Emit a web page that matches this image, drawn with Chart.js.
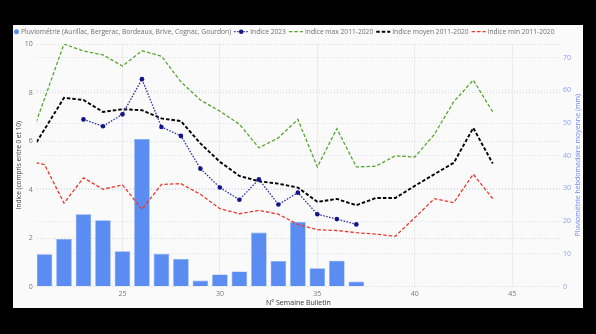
<!DOCTYPE html>
<html>
<head>
<meta charset="utf-8">
<script src="https://cdn.jsdelivr.net/npm/chart.js@4"></script>
<style>
  html, body { margin: 0; padding: 0; background: #000; }
  #wrap { position: absolute; left: 13px; top: 25px; width: 570px; height: 283px; background: #fafafa; }
</style>
</head>
<body>
<div id="wrap"><canvas id="chart"></canvas></div>
<script>
// weeks (N° Semaine Bulletin)
const barWeeks = [21, 22, 23, 24, 25, 26, 27, 28, 29, 30, 31, 32, 33, 34, 35, 36, 37];
const pluvio = [9.9, 14.5, 22.1, 20.3, 10.8, 45.1, 10.0, 8.4, 1.8, 3.7, 4.6, 16.5, 7.8, 19.7, 5.6, 7.9, 1.5];

const weeks2023 = [23, 24, 25, 26, 27, 28, 29, 30, 31, 32, 33, 34, 35, 36, 37];
const indice2023 = [6.89, 6.61, 7.10, 8.55, 6.58, 6.21, 4.86, 4.08, 3.58, 4.42, 3.38, 3.87, 2.98, 2.78, 2.56];

const refWeeks = [20, 21, 22, 23, 24, 25, 26, 27, 28, 29, 30, 31, 32, 33, 34, 35, 36, 37, 38, 39, 40, 41, 42, 43, 44];
const indiceMax = [5.5, 7.74, 10.0, 9.71, 9.55, 9.09, 9.72, 9.50, 8.44, 7.69, 7.23, 6.69, 5.72, 6.13, 6.89, 4.93, 6.51, 4.93, 4.96, 5.39, 5.34, 6.27, 7.62, 8.51, 7.20];
const indiceMoyen = [5.18, 6.48, 7.78, 7.69, 7.20, 7.31, 7.27, 6.93, 6.82, 5.90, 5.14, 4.56, 4.34, 4.24, 4.08, 3.49, 3.61, 3.35, 3.65, 3.65, 4.15, 4.63, 5.10, 6.54, 5.07];
const indiceMin = [5.2, 5.03, 3.44, 4.48, 4.01, 4.19, 3.18, 4.21, 4.24, 3.80, 3.21, 3.00, 3.14, 2.98, 2.56, 2.34, 2.31, 2.22, 2.16, 2.07, 2.84, 3.62, 3.46, 4.63, 3.62];

const leftTicks = [0, 2, 4, 6, 8, 10];
const rightTicks = [0, 10, 20, 30, 40, 50, 60, 70];
const xTicks = [25, 30, 35, 40, 45];

const FONT = "'Open Sans', 'Noto Sans', sans-serif";
const RIGHT_TITLE = 'Pluviométrie hebdomadaire moyenne (mm)';
const pts = (xs, ys) => xs.map((x, i) => ({x: x, y: ys[i]}));

// legend + right axis title drawn by hand so they look like the original
const customLegend = {
  id: 'customLegend',
  afterDraw(chart) {
    const ctx = chart.ctx;
    const y = 6.7;
    let x = 1;
    ctx.save();
    ctx.font = '6.7px ' + FONT;
    ctx.textBaseline = 'middle';
    chart.data.datasets.forEach((ds) => {
      if (ds.type === 'bar') {
        ctx.fillStyle = ds.backgroundColor;
        ctx.beginPath();
        ctx.arc(x + 2.5, y, 2.5, 0, Math.PI * 2);
        ctx.fill();
        x += 7;
      } else {
        ctx.strokeStyle = ds.borderColor;
        ctx.lineWidth = ds.borderWidth;
        ctx.setLineDash(ds.borderDash);
        ctx.beginPath();
        ctx.moveTo(x, y);
        ctx.lineTo(x + 14, y);
        ctx.stroke();
        ctx.setLineDash([]);
        if (ds.pointRadius > 0) {
          ctx.fillStyle = ds.pointBackgroundColor;
          ctx.beginPath();
          ctx.arc(x + 7, y, 2.2, 0, Math.PI * 2);
          ctx.fill();
        }
        x += 16;
      }
      ctx.fillStyle = '#707070';
      ctx.fillText(ds.label, x, y);
      x += ctx.measureText(ds.label).width + 3;
    });

    // right title reads bottom to top in the original
    const area = chart.chartArea;
    ctx.translate(chart.width - 5.3, (area.top + area.bottom) / 2);
    ctx.rotate(-Math.PI / 2);
    ctx.font = '7px ' + FONT;
    ctx.textAlign = 'center';
    ctx.fillStyle = '#7088ee';
    ctx.fillText(RIGHT_TITLE, 0, 0);
    ctx.restore();
  }
};

const lineDs = (label, xs, ys, color, dash, width) => ({
  type: 'line',
  label: label,
  data: pts(xs, ys),
  yAxisID: 'y',
  borderColor: color,
  borderWidth: width,
  borderDash: dash,
  pointRadius: 0,
  tension: 0,
  order: 1,
});

const ind2023 = lineDs('Indice 2023', weeks2023, indice2023, '#2a2aa6', [1.5, 1.5], 1.3);
ind2023.pointRadius = 2.3;
ind2023.pointBackgroundColor = '#13138a';
ind2023.pointBorderWidth = 0;
ind2023.order = 0;

new Chart(document.getElementById('chart'), {
  data: {
    datasets: [
      {
        type: 'bar',
        label: 'Pluviométrie (Aurillac, Bergerac, Bordeaux, Brive, Cognac, Gourdon)',
        data: pts(barWeeks, pluvio),
        yAxisID: 'y1',
        backgroundColor: '#5a8cf1',
        borderColor: '#7ea5f4',
        borderWidth: 0.6,
        barPercentage: 0.8,
        categoryPercentage: 1,
        order: 10,
      },
      ind2023,
      lineDs('Indice max 2011-2020', refWeeks, indiceMax, '#5aa632', [3.5, 2], 1.3),
      lineDs('Indice moyen 2011-2020', refWeeks, indiceMoyen, '#000000', [3.5, 2], 1.9),
      lineDs('Indice min 2011-2020', refWeeks, indiceMin, '#e8392b', [3.5, 2], 1.3),
    ],
  },
  options: {
    responsive: true,
    maintainAspectRatio: false,
    animation: false,
    layout: {padding: {top: 19}},
    plugins: {legend: {display: false}, tooltip: {enabled: false}},
    scales: {
      x: {
        type: 'linear',
        offset: false,
        min: 20.6,
        max: 47.45,
        afterBuildTicks: (s) => { s.ticks = xTicks.map((v) => ({value: v})); },
        afterFit: (s) => { s.height = 21.5; },
        grid: {color: '#ececec', drawTicks: false, offset: false},
        border: {display: false},
        ticks: {color: '#777', font: {family: FONT, size: 7}, padding: 3, maxRotation: 0},
        title: {display: true, text: 'N° Semaine Bulletin', color: '#333', font: {family: FONT, size: 7}, padding: {top: 0, bottom: 0.8}},
      },
      y: {
        position: 'left',
        min: 0,
        max: 10,
        afterBuildTicks: (s) => { s.ticks = leftTicks.map((v) => ({value: v})); },
        afterFit: (s) => { s.width = 23.7; },
        grid: {color: '#d9d9d9', drawTicks: false},
        border: {display: false, dash: [1, 2]},
        ticks: {color: '#777', font: {family: FONT, size: 7}, padding: 4},
        title: {display: true, text: 'Indice (compris entre 0 et 10)', color: '#444', font: {family: FONT, size: 6.5}, padding: {top: 1.8, bottom: 0}},
      },
      y1: {
        position: 'right',
        min: 0,
        max: 74.2,
        afterBuildTicks: (s) => { s.ticks = rightTicks.map((v) => ({value: v})); },
        afterFit: (s) => { s.width = 23; },
        grid: {color: '#d9def5', drawTicks: false},
        border: {display: false, dash: [1, 2]},
        ticks: {color: '#8d9df5', font: {family: FONT, size: 7}, padding: 3},
      },
    },
  },
  plugins: [customLegend],
});
</script>
</body>
</html>
